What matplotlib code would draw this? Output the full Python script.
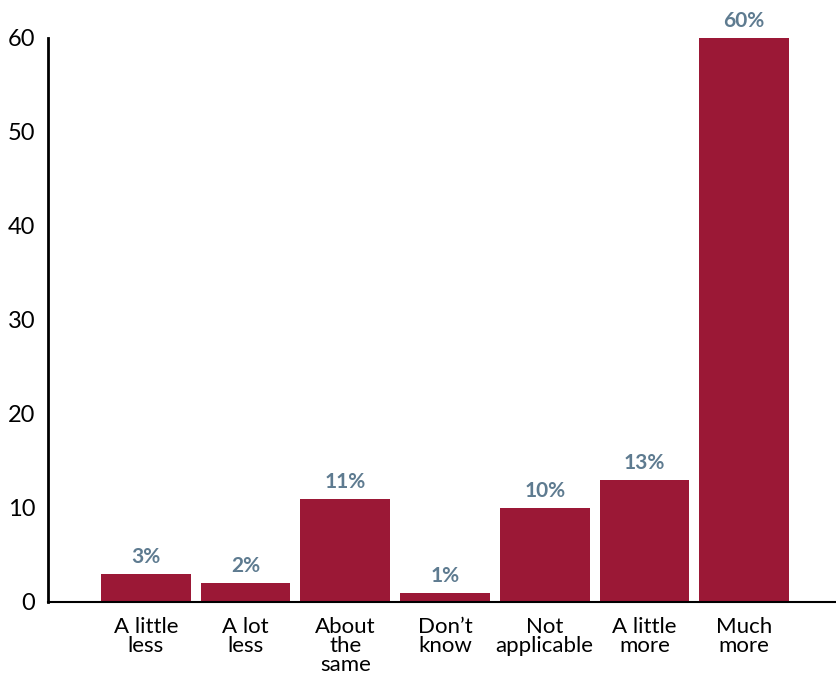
import matplotlib
matplotlib.use("Agg")
import matplotlib.pyplot as plt
import numpy as np

categories = ["A little\nless", "A lot\nless", "About\nthe\nsame", "Don\u2019t\nknow",
              "Not\napplicable", "A little\nmore", "Much\nmore"]
values = [3, 2, 11, 1, 10, 13, 60]

BAR_COLOR = "#9b1836"
LABEL_COLOR = "#5e7b90"

plt.rcParams["font.family"] = ["Lato", "DejaVu Sans"]

fig = plt.figure(figsize=(8.37, 6.77), dpi=100)
ax = fig.add_axes([48 / 837, 75 / 677, 1 - 48 / 837, 564 / 677])

x = np.arange(len(categories))
bars = ax.bar(x, values, width=0.9, color=BAR_COLOR, zorder=2)

# percentage labels above each bar
for b, v in zip(bars, values):
    ax.annotate(f"{v}%", (b.get_x() + b.get_width() / 2, v),
                xytext=(0, 5), textcoords="offset points",
                ha="center", va="bottom", fontsize=15, fontweight="bold",
                color=LABEL_COLOR)

ax.set_xlim(-0.98, 6.93)
ax.set_ylim(0, 60)
ax.set_yticks(range(0, 61, 10))
ax.set_xticks(x)
ax.set_xticklabels(categories, fontsize=16, linespacing=0.93, va="top")
ax.tick_params(axis="y", length=0, pad=9, labelsize=17)
ax.tick_params(axis="x", length=0, pad=11)

for s in ["top", "right"]:
    ax.spines[s].set_visible(False)
ax.spines["left"].set_linewidth(2)
ax.spines["bottom"].set_linewidth(1.5)
ax.spines["left"].set_color("black")
ax.spines["bottom"].set_color("black")

fig.savefig("out.png", dpi=100)
